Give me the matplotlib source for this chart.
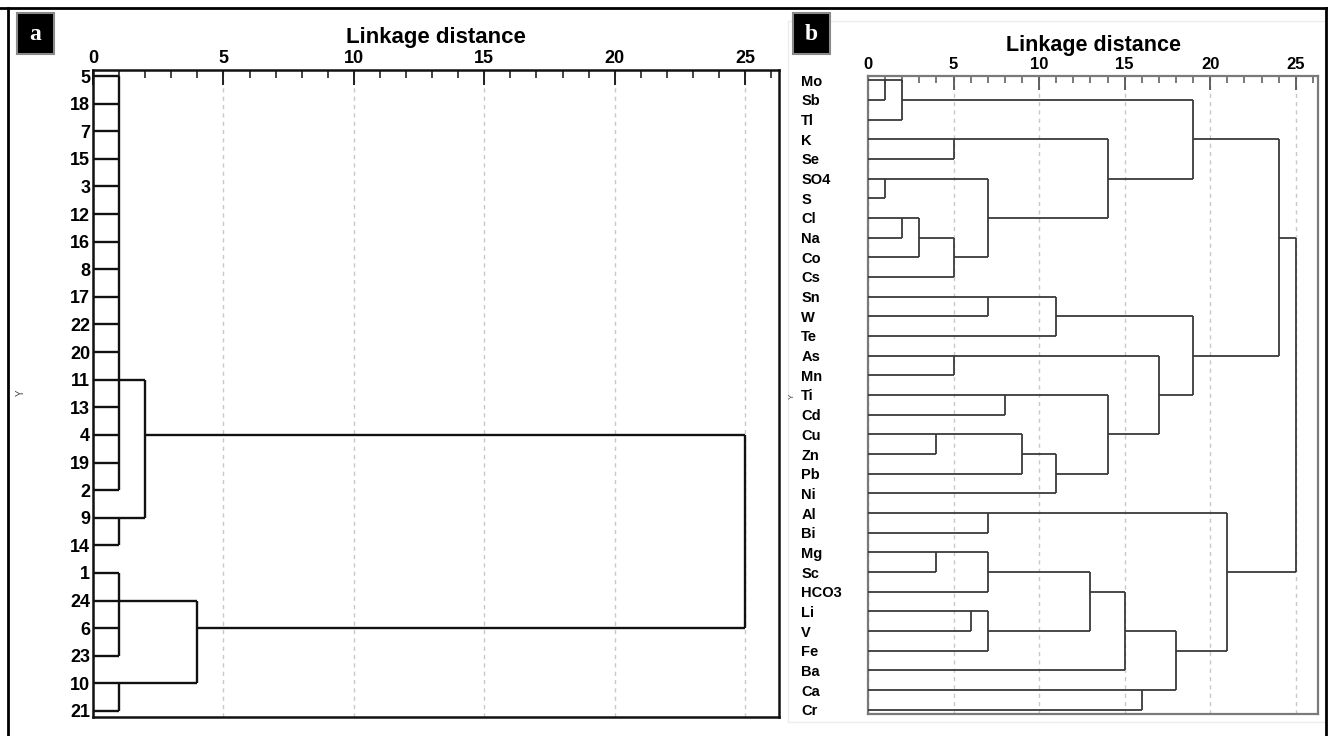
import math
import matplotlib
matplotlib.use("Agg")
import matplotlib.pyplot as plt
from matplotlib.ticker import MultipleLocator
from matplotlib.patches import Rectangle
from matplotlib.lines import Line2D

plt.rcParams['font.family'] = ['Liberation Sans', 'DejaVu Sans']

# ---------------- data ----------------
# Panel a: cases (leaf order, top to bottom)
LEAVES_A = ['5', '18', '7', '15', '3', '12', '16', '8', '17', '22', '20', '11',
            '13', '4', '19', '2', '9', '14', '1', '24', '6', '23', '10', '21']
# (node name, children, linkage distance)
MERGES_A = [
    ('A1', ['5', '18', '7', '15', '3', '12', '16', '8', '17', '22', '20', '11',
            '13', '4', '19', '2'], 1.0),
    ('A2', ['9', '14'], 1.0),
    ('A3', ['1', '24', '6', '23'], 1.0),
    ('A4', ['10', '21'], 1.0),
    ('A5', ['A1', 'A2'], 2.0),
    ('A6', ['A3', 'A4'], 4.0),
    ('A7', ['A5', 'A6'], 25.0),
]
# leaf at which the link leaves a tied (multi-member) cluster
EXIT_A = {'A1': '11'}

# Panel b: variables
LEAVES_B = ['Mo', 'Sb', 'Tl', 'K', 'Se', 'SO4', 'S', 'Cl', 'Na', 'Co', 'Cs',
            'Sn', 'W', 'Te', 'As', 'Mn', 'Ti', 'Cd', 'Cu', 'Zn', 'Pb', 'Ni',
            'Al', 'Bi', 'Mg', 'Sc', 'HCO3', 'Li', 'V', 'Fe', 'Ba', 'Ca', 'Cr']
MERGES_B = [
    ('B1', ['Mo', 'Sb'], 1), ('B2', ['B1', 'Tl'], 2), ('B3', ['K', 'Se'], 5),
    ('B4', ['SO4', 'S'], 1), ('B5', ['Cl', 'Na'], 2), ('B6', ['B5', 'Co'], 3),
    ('B7', ['B6', 'Cs'], 5), ('B8', ['B4', 'B7'], 7), ('B9', ['B3', 'B8'], 14),
    ('B10', ['B2', 'B9'], 19), ('B11', ['Sn', 'W'], 7), ('B12', ['B11', 'Te'], 11),
    ('B13', ['As', 'Mn'], 5), ('B14', ['Ti', 'Cd'], 8), ('B15', ['Cu', 'Zn'], 4),
    ('B16', ['B15', 'Pb'], 9), ('B17', ['B16', 'Ni'], 11), ('B18', ['B14', 'B17'], 14),
    ('B19', ['B13', 'B18'], 17), ('B20', ['B12', 'B19'], 19), ('B21', ['B10', 'B20'], 24),
    ('B22', ['Al', 'Bi'], 7), ('B23', ['Mg', 'Sc'], 4), ('B24', ['B23', 'HCO3'], 7),
    ('B25', ['Li', 'V'], 6), ('B26', ['B25', 'Fe'], 7), ('B27', ['B24', 'B26'], 13),
    ('B28', ['B27', 'Ba'], 15), ('B29', ['Ca', 'Cr'], 16), ('B30', ['B28', 'B29'], 18),
    ('B31', ['B22', 'B30'], 21), ('B32', ['B21', 'B31'], 25),
]
EXIT_B = {}

X_TICKS = [0, 5, 10, 15, 20, 25]
X_MAX = 26.3
AXIS_TITLE = 'Linkage distance'

# ---------------- figure ----------------
W, H = 1328, 736
fig = plt.figure(figsize=(W / 100, H / 100), dpi=100)


def px_axes(l, t, r, b):
    return fig.add_axes([l / W, 1 - b / H, (r - l) / W, (b - t) / H])


def draw_tree(ax, leaves, merges, exits, color, lw):
    row = {name: i for i, name in enumerate(leaves)}
    height = {name: 0.0 for name in leaves}
    for name, children, h in merges:
        rows = [row[c] for c in children]
        for c in children:
            ax.plot([height[c], h], [row[c], row[c]], color=color, lw=lw,
                    solid_capstyle='butt', zorder=3)
        ax.plot([h, h], [min(rows), max(rows)], color=color, lw=lw,
                solid_capstyle='butt', zorder=3)
        if name in exits:
            row[name] = row[exits[name]]
        else:
            row[name] = math.floor((rows[0] + rows[-1]) / 2)
        height[name] = h


def setup(ax, leaves, spine_color, lw_spine, tick_fs, title_fs, leaf_fs,
          maj_len, min_len, tick_pad, leaf_pad, leaf_ha, tick_color, title_pad):
    n = len(leaves)
    ax.set_xlim(0, X_MAX)
    ax.set_ylim(n - 1 + 0.22, -0.22)
    ax.xaxis.tick_top()
    ax.xaxis.set_label_position('top')
    ax.set_xticks(X_TICKS)
    ax.xaxis.set_minor_locator(MultipleLocator(1))
    ax.tick_params(axis='x', which='major', direction='in', length=maj_len,
                   width=1.3, pad=tick_pad, labelsize=tick_fs, color=tick_color)
    ax.tick_params(axis='x', which='minor', direction='in', length=min_len,
                   width=1.1, color=tick_color)
    for lab in ax.get_xticklabels():
        lab.set_fontweight('bold')
    ax.set_yticks(range(n))
    ax.set_yticklabels(leaves, fontsize=leaf_fs, fontweight='bold', ha=leaf_ha)
    ax.tick_params(axis='y', length=0, pad=leaf_pad)
    ax.set_xlabel(AXIS_TITLE, fontsize=title_fs, fontweight='bold', labelpad=title_pad)
    ax.grid(axis='x', which='major', color='#c8c8c8', lw=1.0, ls=(0, (3, 3)))
    ax.set_axisbelow(True)
    for s in ax.spines.values():
        s.set_color(spine_color)
        s.set_linewidth(lw_spine)


# faint frame of panel b image
fig.add_artist(Rectangle((788 / W, 1 - 722 / H), (1325 - 788) / W, (722 - 21) / H,
                         transform=fig.transFigure, fill=False, ec='#ececec', lw=1))

axA = px_axes(93, 70, 779, 717)
axB = px_axes(868, 76, 1318, 714)

setup(axA, LEAVES_A, '#111111', 1.8, 13, 16, 13, 11, 6, 2, 2, 'right', '#111111', 5)
setup(axB, LEAVES_B, '#7a7a7a', 1.6, 12, 15.5, 10.5, 10, 5, 3, 48, 'left', '#555555', 4)

draw_tree(axA, LEAVES_A, MERGES_A, EXIT_A, '#111111', 1.7)
draw_tree(axB, LEAVES_B, MERGES_B, EXIT_B, '#3a3a3a', 1.3)

# "Y" axis names
fig.text(21 / W, 1 - 393 / H, 'Y', rotation=90, fontsize=7, ha='center', va='center',
         color='#444444')
fig.text(792 / W, 1 - 396 / H, 'Y', rotation=90, fontsize=6, ha='center', va='center',
         color='#444444')

# panel letters
for (x0, lab) in [(17, 'a'), (793, 'b')]:
    fig.add_artist(Rectangle((x0 / W, 1 - 54 / H), 37 / W, 41 / H,
                             transform=fig.transFigure, fc='black', ec='#8a8a8a', lw=1.5))
    fig.text((x0 + 18.5) / W, 1 - 35 / H, lab, color='white', fontsize=17,
             fontweight='bold', family=['Liberation Serif', 'DejaVu Serif'],
             ha='center', va='center')

# outer frame
fig.add_artist(Line2D([0, 1], [1 - 8 / H, 1 - 8 / H], transform=fig.transFigure,
                      color='black', lw=2))
fig.add_artist(Line2D([8 / W, 8 / W], [0, 1 - 8 / H], transform=fig.transFigure,
                      color='black', lw=2))
fig.add_artist(Line2D([1326 / W, 1326 / W], [0, 1 - 8 / H], transform=fig.transFigure,
                      color='black', lw=2))

fig.savefig('out.png', dpi=100)
